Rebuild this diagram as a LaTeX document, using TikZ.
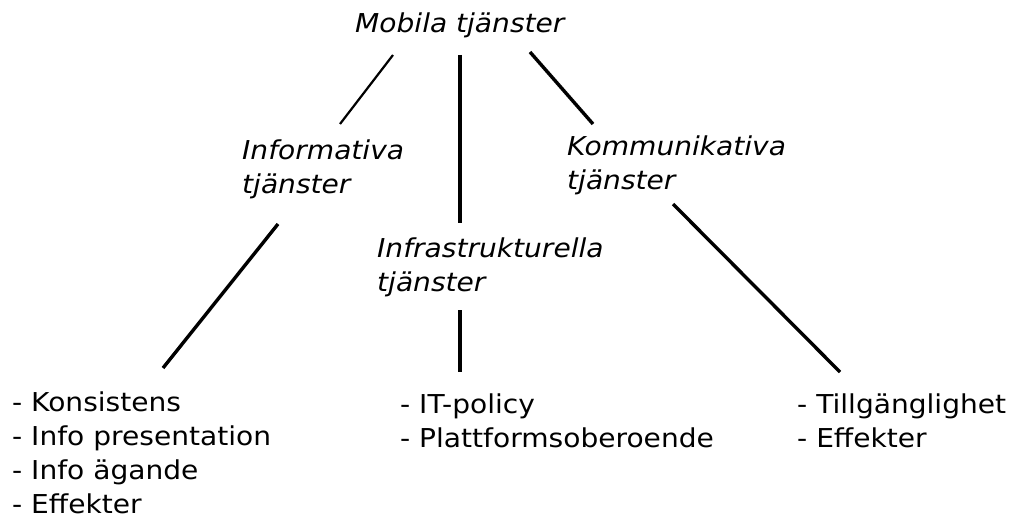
\documentclass[tikz,border=0pt]{standalone}
\usepackage{fontspec}
\setmainfont[FakeStretch=1.08]{DejaVu Sans}
\usetikzlibrary{calc, positioning}
\tikzset{
	topic/.style={anchor=base west, inner sep=0pt, align=left, font=\fontsize{26}{34}\selectfont\itshape},
	itemlist/.style={anchor=base west, inner sep=0pt, align=left, font=\fontsize{26}{34}\selectfont},
	branch/.style={line width=3.4pt, black},
}

\begin{document}
\begin{tikzpicture}[
				x=1pt, y=-1pt,
				thinbranch/.style={branch, line width=2.2pt}
				]
				\useasboundingbox (0,0) rectangle (1011,519);
				% base west sits on the last line of each node
				\node[topic] (mob) at (355,33) {Mobila tjänster};
				\node[topic] (info) at (242,193) {Informativa\\tjänster};
				\node[topic] (infra) at (377,291) {Infrastrukturella\\tjänster};
				\node[topic] (komm) at (567,189) {Kommunikativa\\tjänster};
				\node[itemlist] (ilist) at (12,513) {- Konsistens\\- Info presentation\\- Info ägande\\- Effekter};
				\node[itemlist] (flist) at (400,447) {- IT-policy\\- Plattformsoberoende};
				\node[itemlist] (klist) at (797,447) {- Tillgänglighet\\- Effekter};
				\draw[thinbranch] ($(mob.base west)+(38,22)$) -- ($(info.base west)+(98,-69)$);
				\draw[branch] ($(mob.base west)+(105,22)$) -- ($(infra.base west)+(83,-68)$);
				\draw[branch] ($(mob.base west)+(175,19)$) -- ($(komm.base west)+(26,-65)$);
				\draw[branch] ($(info.base west)+(36,31)$) -- ($(ilist.base west)+(151,-145)$);
				\draw[branch] ($(infra.base west)+(83,19)$) -- ($(flist.base west)+(60,-75)$);
				\draw[branch] ($(komm.base west)+(106,15)$) -- ($(klist.base west)+(43,-75)$);
			\end{tikzpicture}
\end{document}
